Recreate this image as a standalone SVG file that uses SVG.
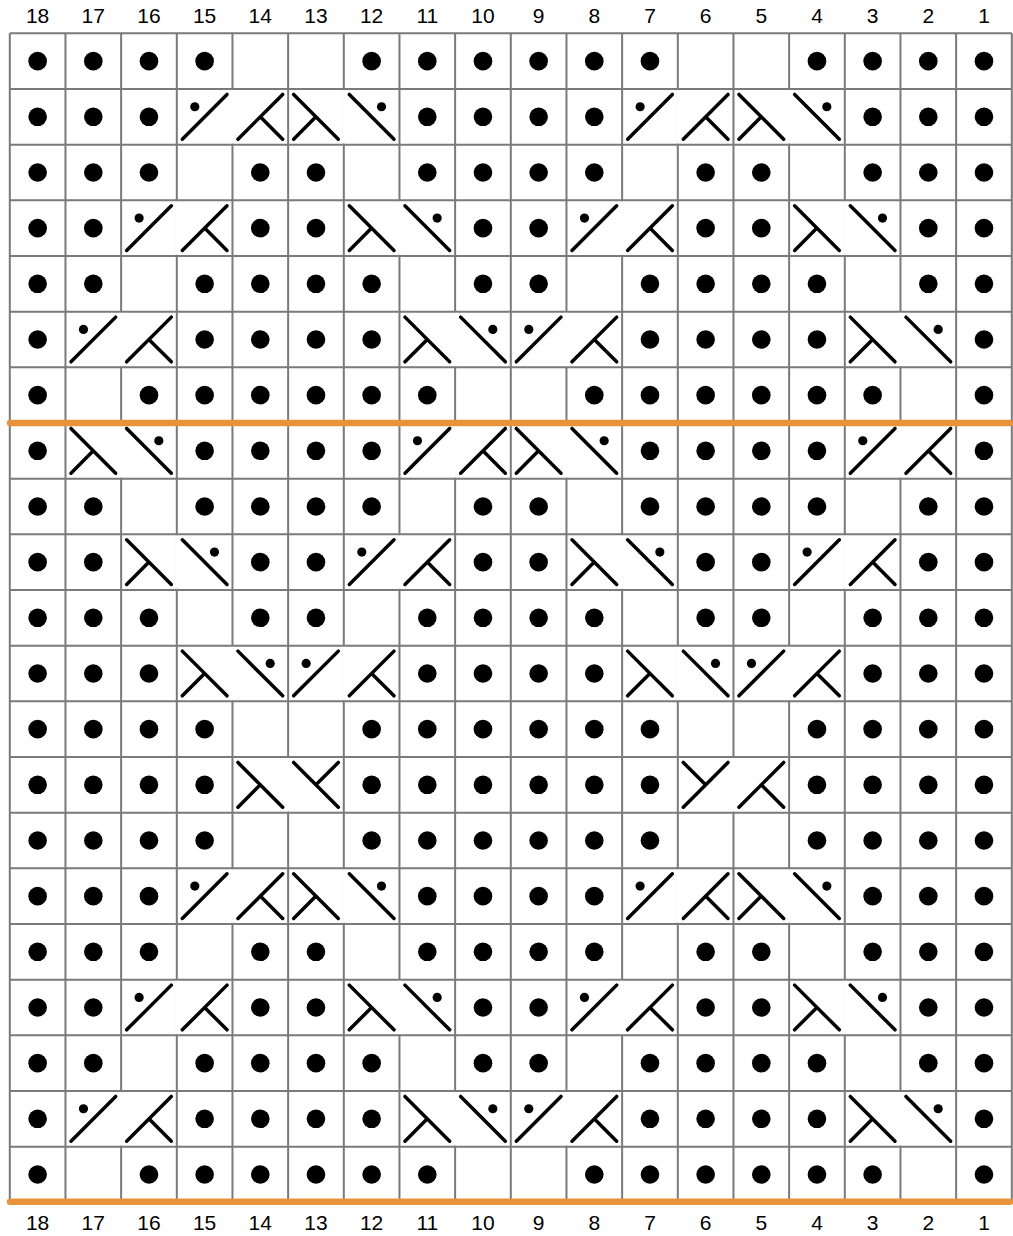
<svg xmlns="http://www.w3.org/2000/svg" xmlns:xlink="http://www.w3.org/1999/xlink" width="1013" height="1236" viewBox="0 0 1013 1236">
<style>
.grid{fill:none;stroke:#7a7a7a;stroke-width:2}
.sym{fill:none;stroke:#000;stroke-width:3.5;stroke-linecap:round}
.dot{fill:#000}
.wo{fill:#fff}
.num{font-family:"Liberation Sans",Arial,sans-serif;font-size:21px;fill:#000;text-anchor:middle}
.band{stroke:#e8923a;stroke-width:6.5;stroke-linecap:round}
</style>
<defs>
<circle id="d" class="dot" cx="0" cy="27.83" r="9.3"/>
<g id="S1"><path class="sym" d="M5.5 50.2L50.2 5.5"/><circle class="dot" cx="18" cy="17.8" r="4.6"/></g>
<g id="S2"><path class="sym" d="M5.5 50.2L50.2 5.5M27.8 27.8L50.2 50.2"/></g>
<g id="S3"><path class="sym" d="M5.5 5.5L50.2 50.2M27.8 27.8L5.5 50.2"/></g>
<g id="S4"><path class="sym" d="M5.5 5.5L50.2 50.2"/><circle class="dot" cx="37.7" cy="17.8" r="4.6"/></g>
<g id="S5"><path class="sym" d="M5.5 5.5L50.2 50.2M27.8 27.8L50.2 5.5"/></g>
<g id="S6"><path class="sym" d="M5.5 50.2L50.2 5.5M27.8 27.8L5.5 5.5"/></g>
<rect id="w" class="wo" x="-1.6" y="1.1" width="3.2" height="53.4"/>

<g id="DA"><use href="#d" x="37.63"/><use href="#d" x="93.3"/><use href="#d" x="148.97"/><use href="#d" x="204.63"/><use href="#d" x="371.63"/><use href="#d" x="427.3"/><use href="#d" x="482.97"/><use href="#d" x="538.63"/><use href="#d" x="594.3"/><use href="#d" x="649.97"/><use href="#d" x="816.97"/><use href="#d" x="872.63"/><use href="#d" x="928.3"/><use href="#d" x="983.97"/></g>
<g id="DB"><use href="#d" x="37.63"/><use href="#d" x="93.3"/><use href="#d" x="148.97"/><use href="#d" x="427.3"/><use href="#d" x="482.97"/><use href="#d" x="538.63"/><use href="#d" x="594.3"/><use href="#d" x="872.63"/><use href="#d" x="928.3"/><use href="#d" x="983.97"/></g>
<g id="DC"><use href="#d" x="37.63"/><use href="#d" x="93.3"/><use href="#d" x="148.97"/><use href="#d" x="260.3"/><use href="#d" x="315.97"/><use href="#d" x="427.3"/><use href="#d" x="482.97"/><use href="#d" x="538.63"/><use href="#d" x="594.3"/><use href="#d" x="705.63"/><use href="#d" x="761.3"/><use href="#d" x="872.63"/><use href="#d" x="928.3"/><use href="#d" x="983.97"/></g>
<g id="DD"><use href="#d" x="37.63"/><use href="#d" x="93.3"/><use href="#d" x="260.3"/><use href="#d" x="315.97"/><use href="#d" x="482.97"/><use href="#d" x="538.63"/><use href="#d" x="705.63"/><use href="#d" x="761.3"/><use href="#d" x="928.3"/><use href="#d" x="983.97"/></g>
<g id="DE"><use href="#d" x="37.63"/><use href="#d" x="93.3"/><use href="#d" x="204.63"/><use href="#d" x="260.3"/><use href="#d" x="315.97"/><use href="#d" x="371.63"/><use href="#d" x="482.97"/><use href="#d" x="538.63"/><use href="#d" x="649.97"/><use href="#d" x="705.63"/><use href="#d" x="761.3"/><use href="#d" x="816.97"/><use href="#d" x="928.3"/><use href="#d" x="983.97"/></g>
<g id="DF"><use href="#d" x="37.63"/><use href="#d" x="204.63"/><use href="#d" x="260.3"/><use href="#d" x="315.97"/><use href="#d" x="371.63"/><use href="#d" x="649.97"/><use href="#d" x="705.63"/><use href="#d" x="761.3"/><use href="#d" x="816.97"/><use href="#d" x="983.97"/></g>
<g id="DG"><use href="#d" x="37.63"/><use href="#d" x="148.97"/><use href="#d" x="204.63"/><use href="#d" x="260.3"/><use href="#d" x="315.97"/><use href="#d" x="371.63"/><use href="#d" x="427.3"/><use href="#d" x="594.3"/><use href="#d" x="649.97"/><use href="#d" x="705.63"/><use href="#d" x="761.3"/><use href="#d" x="816.97"/><use href="#d" x="872.63"/><use href="#d" x="983.97"/></g>

<g id="RA"><use href="#DA"/></g>
<g id="RB"><use href="#w" x="232.47"/><use href="#w" x="343.8"/><use href="#w" x="677.8"/><use href="#w" x="789.13"/><use href="#DB"/><use href="#S1" x="176.8"/><use href="#S2" x="232.47"/><use href="#S3" x="288.13"/><use href="#S4" x="343.8"/><use href="#S1" x="622.13"/><use href="#S2" x="677.8"/><use href="#S3" x="733.47"/><use href="#S4" x="789.13"/></g>
<g id="RC"><use href="#DC"/></g>
<g id="RD"><use href="#w" x="176.8"/><use href="#w" x="399.47"/><use href="#w" x="622.13"/><use href="#w" x="844.8"/><use href="#DD"/><use href="#S1" x="121.13"/><use href="#S2" x="176.8"/><use href="#S3" x="343.8"/><use href="#S4" x="399.47"/><use href="#S1" x="566.47"/><use href="#S2" x="622.13"/><use href="#S3" x="789.13"/><use href="#S4" x="844.8"/></g>
<g id="RE"><use href="#DE"/></g>
<g id="RF"><use href="#w" x="121.13"/><use href="#w" x="455.13"/><use href="#w" x="566.47"/><use href="#w" x="900.47"/><use href="#DF"/><use href="#S1" x="65.47"/><use href="#S2" x="121.13"/><use href="#S3" x="399.47"/><use href="#S4" x="455.13"/><use href="#S1" x="510.8"/><use href="#S2" x="566.47"/><use href="#S3" x="844.8"/><use href="#S4" x="900.47"/></g>
<g id="RG"><use href="#DG"/></g>
<g id="R8"><use href="#w" x="121.13"/><use href="#w" x="455.13"/><use href="#w" x="566.47"/><use href="#w" x="900.47"/><use href="#DF"/><use href="#S3" x="65.47"/><use href="#S4" x="121.13"/><use href="#S1" x="399.47"/><use href="#S2" x="455.13"/><use href="#S3" x="510.8"/><use href="#S4" x="566.47"/><use href="#S1" x="844.8"/><use href="#S2" x="900.47"/></g>
<g id="R10"><use href="#w" x="176.8"/><use href="#w" x="399.47"/><use href="#w" x="622.13"/><use href="#w" x="844.8"/><use href="#DD"/><use href="#S3" x="121.13"/><use href="#S4" x="176.8"/><use href="#S1" x="343.8"/><use href="#S2" x="399.47"/><use href="#S3" x="566.47"/><use href="#S4" x="622.13"/><use href="#S1" x="789.13"/><use href="#S2" x="844.8"/></g>
<g id="R12"><use href="#w" x="232.47"/><use href="#w" x="343.8"/><use href="#w" x="677.8"/><use href="#w" x="789.13"/><use href="#DB"/><use href="#S3" x="176.8"/><use href="#S4" x="232.47"/><use href="#S1" x="288.13"/><use href="#S2" x="343.8"/><use href="#S3" x="622.13"/><use href="#S4" x="677.8"/><use href="#S1" x="733.47"/><use href="#S2" x="789.13"/></g>
<g id="R14"><use href="#w" x="288.13"/><use href="#w" x="733.47"/><use href="#DA"/><use href="#S3" x="232.47"/><use href="#S5" x="288.13"/><use href="#S6" x="677.8"/><use href="#S2" x="733.47"/></g>
</defs>

<rect x="0" y="0" width="1013" height="1236" fill="#fff"/>

<g id="grid">
<path class="grid" d="M9.8 33.3H1011.8M9.8 88.97H1011.8M9.8 144.63H1011.8M9.8 200.3H1011.8M9.8 255.97H1011.8M9.8 311.63H1011.8M9.8 367.3H1011.8M9.8 422.97H1011.8M9.8 478.63H1011.8M9.8 534.3H1011.8M9.8 589.97H1011.8M9.8 645.63H1011.8M9.8 701.3H1011.8M9.8 756.97H1011.8M9.8 812.63H1011.8M9.8 868.3H1011.8M9.8 923.97H1011.8M9.8 979.63H1011.8M9.8 1035.3H1011.8M9.8 1090.97H1011.8M9.8 1146.63H1011.8M9.8 1202.3H1011.8"/>
<path class="grid" d="M9.8 33.3V1202.3M65.47 33.3V1202.3M121.13 33.3V1202.3M176.8 33.3V1202.3M232.47 33.3V1202.3M288.13 33.3V1202.3M343.8 33.3V1202.3M399.47 33.3V1202.3M455.13 33.3V1202.3M510.8 33.3V1202.3M566.47 33.3V1202.3M622.13 33.3V1202.3M677.8 33.3V1202.3M733.47 33.3V1202.3M789.13 33.3V1202.3M844.8 33.3V1202.3M900.47 33.3V1202.3M956.13 33.3V1202.3M1011.8 33.3V1202.3"/>
</g>

<g id="rows">
<use id="row1" href="#RA" y="33.3"/>
<use id="row2" href="#RB" y="88.97"/>
<use id="row3" href="#RC" y="144.63"/>
<use id="row4" href="#RD" y="200.3"/>
<use id="row5" href="#RE" y="255.97"/>
<use id="row6" href="#RF" y="311.63"/>
<use id="row7" href="#RG" y="367.3"/>
<use id="row8" href="#R8" y="422.97"/>
<use id="row9" href="#RE" y="478.63"/>
<use id="row10" href="#R10" y="534.3"/>
<use id="row11" href="#RC" y="589.97"/>
<use id="row12" href="#R12" y="645.63"/>
<use id="row13" href="#RA" y="701.3"/>
<use id="row14" href="#R14" y="756.97"/>
<use id="row15" href="#RA" y="812.63"/>
<use id="row16" href="#RB" y="868.3"/>
<use id="row17" href="#RC" y="923.97"/>
<use id="row18" href="#RD" y="979.63"/>
<use id="row19" href="#RE" y="1035.3"/>
<use id="row20" href="#RF" y="1090.97"/>
<use id="row21" href="#RG" y="1146.63"/>
</g>

<g id="bands">
<line class="band" x1="10" y1="422.97" x2="1010" y2="422.97"/>
<line class="band" x1="10" y1="1201.8" x2="1010" y2="1201.8"/>
</g>

<g id="labels-top" class="num">
<text x="37.63" y="23.3">18</text><text x="93.3" y="23.3">17</text><text x="148.97" y="23.3">16</text><text x="204.63" y="23.3">15</text><text x="260.3" y="23.3">14</text><text x="315.97" y="23.3">13</text><text x="371.63" y="23.3">12</text><text x="427.3" y="23.3">11</text><text x="482.97" y="23.3">10</text><text x="538.63" y="23.3">9</text><text x="594.3" y="23.3">8</text><text x="649.97" y="23.3">7</text><text x="705.63" y="23.3">6</text><text x="761.3" y="23.3">5</text><text x="816.97" y="23.3">4</text><text x="872.63" y="23.3">3</text><text x="928.3" y="23.3">2</text><text x="983.97" y="23.3">1</text>
</g>
<g id="labels-bottom" class="num">
<text x="37.63" y="1230">18</text><text x="93.3" y="1230">17</text><text x="148.97" y="1230">16</text><text x="204.63" y="1230">15</text><text x="260.3" y="1230">14</text><text x="315.97" y="1230">13</text><text x="371.63" y="1230">12</text><text x="427.3" y="1230">11</text><text x="482.97" y="1230">10</text><text x="538.63" y="1230">9</text><text x="594.3" y="1230">8</text><text x="649.97" y="1230">7</text><text x="705.63" y="1230">6</text><text x="761.3" y="1230">5</text><text x="816.97" y="1230">4</text><text x="872.63" y="1230">3</text><text x="928.3" y="1230">2</text><text x="983.97" y="1230">1</text>
</g>
</svg>
